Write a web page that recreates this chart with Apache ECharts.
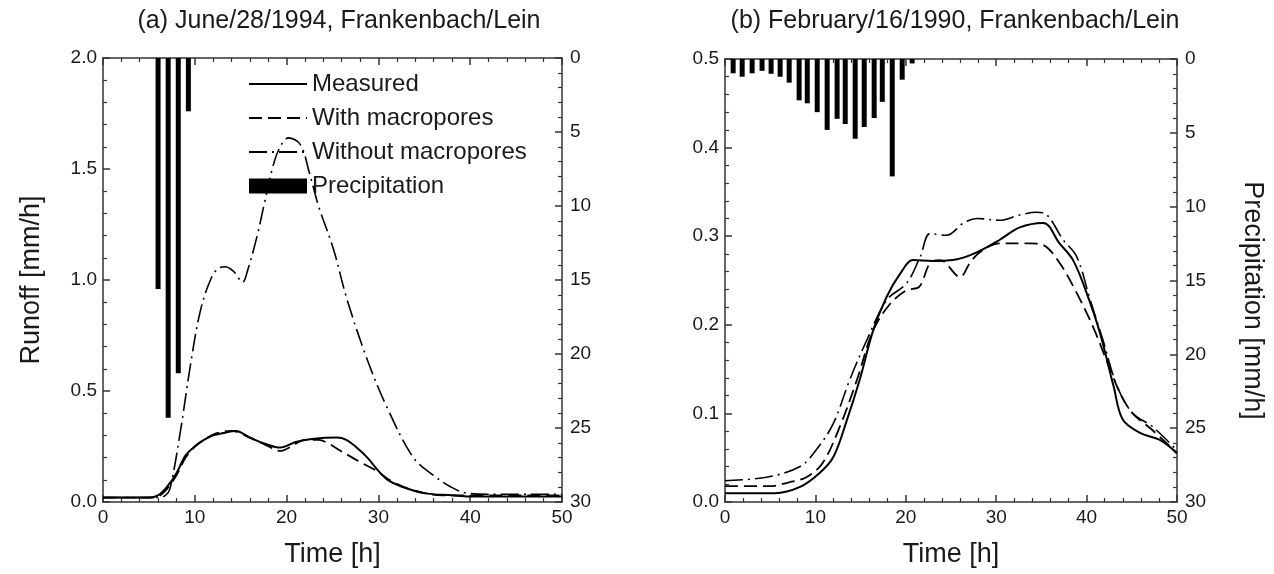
<!DOCTYPE html>
<html>
<head>
<meta charset="utf-8">
<script src="https://cdn.jsdelivr.net/npm/echarts@6/dist/echarts.min.js"></script>
<style>
html,body{margin:0;padding:0;background:#fff;}
#chart{width:1274px;height:574px;}
</style>
</head>
<body>
<div id="chart"></div>
<script>
// ---------- DATA ----------
const seriesNames = ['Measured', 'With macropores', 'Without macropores', 'Precipitation'];
const titleA = '(a) June/28/1994, Frankenbach/Lein';
const titleB = '(b) February/16/1990, Frankenbach/Lein';

// Panel (a): [time h, runoff mm/h]
const measuredA = [[0,0.02],[5,0.02],[6,0.03],[7,0.07],[8,0.13],[9,0.21],[10,0.25],[11,0.28],[12,0.30],[13,0.31],[14.5,0.32],[16,0.29],[17.8,0.26],[19.3,0.245],[21,0.27],[23,0.285],[25.5,0.29],[26.5,0.28],[27.5,0.25],[28.8,0.2],[30,0.14],[31,0.1],[32.5,0.07],[35,0.04],[38,0.03],[40,0.025],[50,0.025]];
const withA = [[0,0.02],[5,0.02],[6,0.025],[7,0.06],[8,0.12],[9,0.2],[10,0.25],[11,0.28],[12.4,0.31],[14,0.32],[16,0.29],[17.8,0.255],[19.3,0.23],[20.5,0.25],[22,0.28],[23.5,0.28],[24.5,0.265],[25.5,0.24],[28,0.18],[29.8,0.14],[31.6,0.09],[34,0.05],[37,0.03],[40,0.03],[50,0.03]];
const withoutA = [[0,0.02],[6,0.02],[6.8,0.03],[7.3,0.06],[8.4,0.31],[9.5,0.61],[10.6,0.86],[11.7,1.0],[12.5,1.05],[13.3,1.06],[14.2,1.04],[15.2,0.99],[15.8,1.05],[16.8,1.2],[17.5,1.33],[18.5,1.51],[19.3,1.6],[20.2,1.64],[21.5,1.61],[22.5,1.48],[23.5,1.33],[25.1,1.14],[26.6,0.91],[28.8,0.64],[30.9,0.43],[33.8,0.2],[36,0.12],[37.8,0.07],[39.6,0.04],[42,0.035],[50,0.035]];
// Panel (a) precipitation: [time h, mm/h]
const precipA = [[6.0,15.6],[7.1,24.3],[8.2,21.3],[9.3,3.6]];

// Panel (b)
const measuredB = [[0,0.01],[5.5,0.01],[8.3,0.017],[10.5,0.033],[12,0.051],[13.5,0.093],[14.9,0.138],[16.4,0.194],[17.9,0.232],[19.4,0.258],[20.8,0.273],[23,0.272],[25.7,0.274],[27.9,0.282],[30.4,0.296],[32.6,0.31],[35.2,0.315],[37,0.292],[38.5,0.273],[40,0.236],[41.5,0.19],[43,0.13],[44,0.093],[45.9,0.078],[48.1,0.07],[50,0.055]];
const withB = [[0,0.018],[5,0.018],[7,0.022],[9,0.028],[10.8,0.044],[12.7,0.085],[14.6,0.138],[16.4,0.194],[18.3,0.224],[20.1,0.239],[21.5,0.243],[22.7,0.27],[23.8,0.273],[26,0.254],[27.1,0.27],[28.2,0.282],[30.4,0.292],[33.7,0.292],[35.2,0.29],[37,0.27],[38.9,0.236],[40.7,0.198],[42.2,0.16],[43.7,0.123],[45.1,0.1],[47.3,0.081],[50,0.055]];
const withoutB = [[0,0.024],[4.6,0.028],[8.3,0.04],[10.1,0.059],[12,0.089],[13.8,0.138],[15.7,0.183],[17.9,0.228],[20.1,0.247],[21.6,0.277],[22.7,0.303],[24.5,0.301],[26.4,0.315],[27.9,0.32],[30.4,0.318],[32.6,0.324],[34.5,0.327],[35.5,0.325],[37.4,0.296],[38.9,0.277],[40.4,0.228],[41.8,0.183],[43.4,0.13],[45.1,0.1],[47.3,0.085],[50,0.058]];
const precipB = [[0.9,0.97],[1.9,1.2],[3.0,0.97],[4.1,0.8],[5.1,1.0],[6.1,1.2],[7.1,1.6],[8.2,2.8],[9.1,3.0],[10.2,3.6],[11.3,4.8],[12.4,4.05],[13.3,4.4],[14.4,5.4],[15.4,4.6],[16.5,4.0],[17.4,2.9],[18.5,7.95],[19.6,1.4],[20.7,0.3]];

// ---------- STYLE ----------
const FONT = 'Liberation Sans, Arial, sans-serif';
const TXT = '#1a1a1a';
const AX = '#333';
const dashType = [13, 6];
const dashDotType = [18, 5, 2, 5];

function xAxes(gridIndex) {
  const base = {
    type: 'value', min: 0, max: 50, interval: 10, gridIndex,
    axisLine: {show: true, onZero: false, lineStyle: {color: AX, width: 1.5}},
    axisTick: {show: true, inside: true, length: 7, lineStyle: {color: AX, width: 1.5}},
    minorTick: {show: true, splitNumber: 5, length: 4, lineStyle: {color: AX, width: 1.2}},
    splitLine: {show: false}
  };
  return [
    Object.assign({}, base, {
      position: 'bottom',
      name: 'Time [h]', nameLocation: 'middle', nameGap: 39,
      nameTextStyle: {fontFamily: FONT, fontSize: 27, color: TXT},
      axisLabel: {fontFamily: FONT, fontSize: 19, color: TXT, margin: 6}
    }),
    Object.assign({}, base, {position: 'top', axisLabel: {show: false}})
  ];
}

function yLeft(gridIndex, max, interval, name) {
  return {
    type: 'value', min: 0, max, interval, gridIndex, position: 'left',
    name: name || '', nameLocation: 'middle', nameGap: 58, nameRotate: 90,
    nameTextStyle: {fontFamily: FONT, fontSize: 27, color: TXT},
    axisLine: {show: true, onZero: false, lineStyle: {color: AX, width: 1.5}},
    axisTick: {show: true, inside: true, length: 7, lineStyle: {color: AX, width: 1.5}},
    minorTick: {show: true, splitNumber: 5, length: 4, lineStyle: {color: AX, width: 1.2}},
    splitLine: {show: false},
    axisLabel: {fontFamily: FONT, fontSize: 19, color: TXT, margin: 6, formatter: v => v.toFixed(1)}
  };
}

function yRight(gridIndex, name) {
  return {
    type: 'value', min: 0, max: 30, interval: 5, inverse: true, gridIndex, position: 'right',
    name: name || '', nameLocation: 'middle', nameGap: 62, nameRotate: -90,
    nameTextStyle: {fontFamily: FONT, fontSize: 27, color: TXT, padding: [0, 0, 0, 40]},
    axisLine: {show: true, onZero: false, lineStyle: {color: AX, width: 1.5}},
    axisTick: {show: true, inside: true, length: 7, lineStyle: {color: AX, width: 1.5}},
    minorTick: {show: true, splitNumber: 5, length: 4, lineStyle: {color: AX, width: 1.2}},
    splitLine: {show: false},
    axisLabel: {fontFamily: FONT, fontSize: 19, color: TXT, margin: 8}
  };
}

function lineSeries(name, data, xi, yi, type, width) {
  return {
    name, type: 'line', data, xAxisIndex: xi, yAxisIndex: yi,
    symbol: 'none', showSymbol: false, smooth: 0.35, z: 5,
    lineStyle: {color: '#000', width, type},
    itemStyle: {color: '#000'}
  };
}

function barSeries(data, xi, yi, w) {
  return {
    name: 'Precipitation', type: 'bar', data, xAxisIndex: xi, yAxisIndex: yi,
    barWidth: w, itemStyle: {color: '#000'}, z: 2
  };
}

const legendData = seriesNames.map(n => n === 'Precipitation'
  ? {name: n, icon: 'rect'}
  : {name: n, itemStyle: {opacity: 0}});

const chart = echarts.init(document.getElementById('chart'), null, {renderer: 'canvas'});
chart.setOption({
  backgroundColor: '#fff',
  animation: false,
  title: [
    {text: titleA, left: 334, top: 4, textAlign: 'center',
     textStyle: {fontFamily: FONT, fontSize: 25, fontWeight: 'normal', color: TXT}},
    {text: titleB, left: 950, top: 4, textAlign: 'center',
     textStyle: {fontFamily: FONT, fontSize: 25, fontWeight: 'normal', color: TXT}}
  ],
  legend: {
    data: legendData, orient: 'vertical', left: 243, top: 67,
    itemWidth: 58, itemHeight: 15, itemGap: 10,
    textStyle: {fontFamily: FONT, fontSize: 24, color: TXT},
    backgroundColor: 'transparent'
  },
  grid: [
    {left: 103, top: 58, width: 459, height: 444},
    {left: 725, top: 59, width: 452, height: 443}
  ],
  xAxis: [...xAxes(0), ...xAxes(1)],
  yAxis: [
    yLeft(0, 2.0, 0.5, 'Runoff [mm/h]'),
    yRight(0, ''),
    yLeft(1, 0.5, 0.1, ''),
    yRight(1, 'Precipitation [mm/h]')
  ],
  series: [
    barSeries(precipA, 0, 1, 5),
    lineSeries('Measured', measuredA, 0, 0, 'solid', 2),
    lineSeries('With macropores', withA, 0, 0, dashType, 1.8),
    lineSeries('Without macropores', withoutA, 0, 0, dashDotType, 1.6),
    barSeries(precipB, 2, 3, 5),
    lineSeries('Measured', measuredB, 2, 2, 'solid', 2),
    lineSeries('With macropores', withB, 2, 2, dashType, 1.8),
    lineSeries('Without macropores', withoutB, 2, 2, dashDotType, 1.6)
  ]
});
</script>
</body>
</html>
